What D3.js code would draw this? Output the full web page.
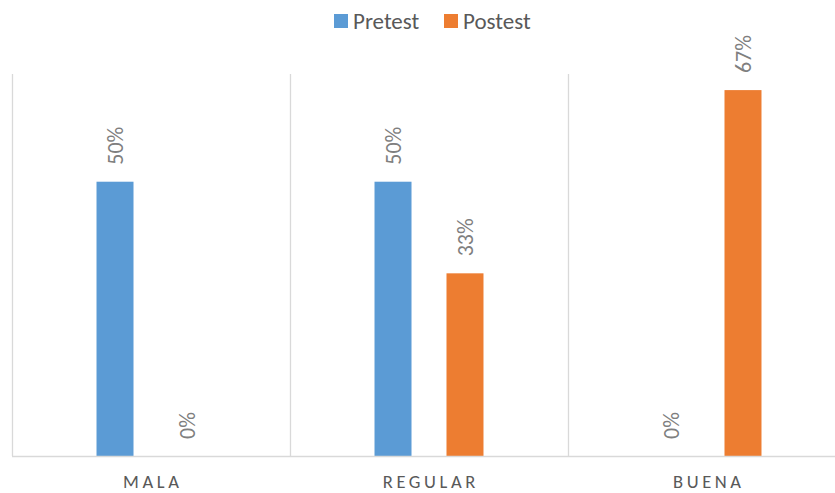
<!DOCTYPE html>
<html>
<head>
<meta charset="utf-8">
<script src="https://cdn.jsdelivr.net/npm/d3@7"></script>
<style>
  html, body { margin: 0; padding: 0; background: #fff; }
  svg { display: block; font-family: Carlito, Calibri, Lato, "Open Sans", sans-serif; }
</style>
</head>
<body>
<svg id="chart" width="835" height="493"></svg>
<script>
// Rating categories along the x axis
const categories = ["MALA", "REGULAR", "BUENA"];
// Series names (legend order)
const seriesNames = ["Pretest", "Postest"];
// Share of respondents per category
const pretest = [0.5, 0.5, 0];
const postest = [0, 0.333, 0.667];

const colors = { Pretest: "#5B9BD5", Postest: "#ED7D31" };
const values = { Pretest: pretest, Postest: postest };

const svg = d3.select("#chart");
const left = 12, bandW = 278, baseY = 456, topY = 72;

const x0 = d3.scaleBand()
  .domain(categories)
  .range([left, left + bandW * categories.length])
  .paddingInner(0).paddingOuter(0);

const x1 = d3.scaleBand()
  .domain(seriesNames)
  .range([0, bandW])
  .paddingInner(35 / 72)
  .paddingOuter(1.174);

const y = d3.scaleLinear().domain([0, 0.7]).range([baseY, topY]);
const fmt = d3.format(".0%");

// Category separators (vertical gridlines at band edges)
const edges = categories.map(c => x0(c));
svg.append("g").selectAll("line").data(edges).join("line")
  .attr("x1", d => d + 0.5).attr("x2", d => d + 0.5)
  .attr("y1", topY + 2).attr("y2", baseY)
  .attr("stroke", "#D9D9D9").attr("stroke-width", 1.3);

// Bars
const rows = [];
categories.forEach((c, i) => seriesNames.forEach(s => rows.push({ c, s, v: values[s][i] })));

svg.append("g").selectAll("rect").data(rows.filter(d => d.v > 0)).join("rect")
  .attr("x", d => x0(d.c) + x1(d.s))
  .attr("y", d => y(d.v))
  .attr("width", x1.bandwidth())
  .attr("height", d => y(0) - y(d.v))
  .attr("fill", d => colors[d.s]);

// Value labels, rotated, above each bar
svg.append("g").selectAll("text").data(rows).join("text")
  .attr("transform", d => `translate(${x0(d.c) + x1(d.s) + x1.bandwidth() / 2},${y(d.v) - 17}) rotate(-90)`)
  .attr("dy", "0.36em")
  .attr("text-anchor", "start")
  .attr("font-size", 22)
  .attr("fill", "#7F7F7F")
  .text(d => fmt(d.v));

// Baseline axis
const xAxis = d3.axisBottom(x0).tickSize(0).tickPadding(0);
const gx = svg.append("g").attr("transform", `translate(0,${baseY})`).call(xAxis);
gx.select(".domain").attr("d", `M${left},0.5H835`).attr("stroke", "#D9D9D9").attr("stroke-width", 1.5);
gx.selectAll(".tick text")
  .attr("y", 32)
  .attr("dy", 0)
  .attr("dx", "1.8px")
  .attr("font-size", 18.5)
  .attr("font-family", "Carlito, Calibri, Lato, 'Open Sans', sans-serif")
  .attr("letter-spacing", "3.6px")
  .attr("fill", "#595959");

// Legend
const legend = svg.append("g");
const legendX = [334, 444];
seriesNames.forEach((s, i) => {
  legend.append("rect").attr("x", legendX[i]).attr("y", 14).attr("width", 14).attr("height", 14).attr("fill", colors[s]);
  legend.append("text").attr("x", legendX[i] + 19).attr("y", 28.5)
    .attr("font-size", 23).attr("fill", "#595959").text(s);
});
</script>
</body>
</html>
